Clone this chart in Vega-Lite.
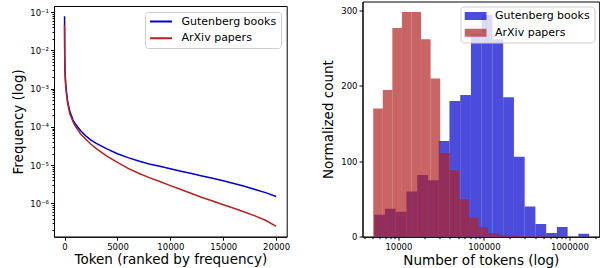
{
  "$schema": "https://vega.github.io/schema/vega-lite/v6.json",
  "padding": {"left": 11, "top": 0.5, "right": 4, "bottom": 0},
  "config": {
    "font": "DejaVu Sans",
    "view": {"stroke": "black", "strokeWidth": 1},
    "axis": {"grid": false, "domainColor": "black", "tickColor": "black", "labelColor": "black", "titleColor": "black", "labelFontSize": 8.5, "titleFontSize": 13.5, "titleFontWeight": "normal", "tickSize": 3.5, "labelPadding": 2},
    "legend": {"labelFontSize": 11, "labelColor": "black", "fillColor": "rgba(255,255,255,0.8)", "strokeColor": "#cccccc", "cornerRadius": 3, "padding": 4, "rowPadding": 4.7, "clipHeight": 11, "labelOffset": 8.5, "title": null}
  },
  "resolve": {"scale": {"color": "independent"}, "legend": {"color": "independent"}},
  "spacing": 29.5,
  "datasets": {
    "books": [
      {"rank": 0, "freq": 0.078, "series": "Gutenberg books"},
      {"rank": 2, "freq": 0.035, "series": "Gutenberg books"},
      {"rank": 5, "freq": 0.02, "series": "Gutenberg books"},
      {"rank": 10, "freq": 0.012, "series": "Gutenberg books"},
      {"rank": 20, "freq": 0.0065, "series": "Gutenberg books"},
      {"rank": 50, "freq": 0.0028, "series": "Gutenberg books"},
      {"rank": 100, "freq": 0.0014, "series": "Gutenberg books"},
      {"rank": 200, "freq": 0.00072, "series": "Gutenberg books"},
      {"rank": 300, "freq": 0.00045, "series": "Gutenberg books"},
      {"rank": 500, "freq": 0.00025, "series": "Gutenberg books"},
      {"rank": 800, "freq": 0.00015, "series": "Gutenberg books"},
      {"rank": 1000, "freq": 0.00012, "series": "Gutenberg books"},
      {"rank": 1500, "freq": 0.00008, "series": "Gutenberg books"},
      {"rank": 2000, "freq": 0.000058, "series": "Gutenberg books"},
      {"rank": 2500, "freq": 0.000045, "series": "Gutenberg books"},
      {"rank": 3000, "freq": 0.000037, "series": "Gutenberg books"},
      {"rank": 4000, "freq": 0.0000265, "series": "Gutenberg books"},
      {"rank": 5000, "freq": 0.0000198, "series": "Gutenberg books"},
      {"rank": 6000, "freq": 0.0000156, "series": "Gutenberg books"},
      {"rank": 7000, "freq": 0.0000127, "series": "Gutenberg books"},
      {"rank": 8000, "freq": 0.0000107, "series": "Gutenberg books"},
      {"rank": 9000, "freq": 0.0000093, "series": "Gutenberg books"},
      {"rank": 10000, "freq": 0.000008, "series": "Gutenberg books"},
      {"rank": 11000, "freq": 0.0000069, "series": "Gutenberg books"},
      {"rank": 12000, "freq": 0.000006, "series": "Gutenberg books"},
      {"rank": 13000, "freq": 0.0000052, "series": "Gutenberg books"},
      {"rank": 14000, "freq": 0.0000045, "series": "Gutenberg books"},
      {"rank": 15000, "freq": 0.0000039, "series": "Gutenberg books"},
      {"rank": 16000, "freq": 0.0000033, "series": "Gutenberg books"},
      {"rank": 17000, "freq": 0.0000028, "series": "Gutenberg books"},
      {"rank": 18000, "freq": 0.0000023, "series": "Gutenberg books"},
      {"rank": 19000, "freq": 0.0000019, "series": "Gutenberg books"},
      {"rank": 20000, "freq": 0.0000015, "series": "Gutenberg books"}
    ],
    "arxiv": [
      {"rank": 0, "freq": 0.046, "series": "ArXiv papers"},
      {"rank": 2, "freq": 0.025, "series": "ArXiv papers"},
      {"rank": 5, "freq": 0.015, "series": "ArXiv papers"},
      {"rank": 10, "freq": 0.009, "series": "ArXiv papers"},
      {"rank": 20, "freq": 0.0052, "series": "ArXiv papers"},
      {"rank": 50, "freq": 0.0023, "series": "ArXiv papers"},
      {"rank": 100, "freq": 0.0012, "series": "ArXiv papers"},
      {"rank": 200, "freq": 0.00063, "series": "ArXiv papers"},
      {"rank": 300, "freq": 0.0004, "series": "ArXiv papers"},
      {"rank": 500, "freq": 0.00022, "series": "ArXiv papers"},
      {"rank": 800, "freq": 0.000135, "series": "ArXiv papers"},
      {"rank": 1000, "freq": 0.000105, "series": "ArXiv papers"},
      {"rank": 1500, "freq": 0.000066, "series": "ArXiv papers"},
      {"rank": 2000, "freq": 0.000047, "series": "ArXiv papers"},
      {"rank": 2500, "freq": 0.000035, "series": "ArXiv papers"},
      {"rank": 3000, "freq": 0.000027, "series": "ArXiv papers"},
      {"rank": 4000, "freq": 0.0000172, "series": "ArXiv papers"},
      {"rank": 5000, "freq": 0.0000117, "series": "ArXiv papers"},
      {"rank": 6000, "freq": 0.0000082, "series": "ArXiv papers"},
      {"rank": 7000, "freq": 0.0000061, "series": "ArXiv papers"},
      {"rank": 8000, "freq": 0.0000047, "series": "ArXiv papers"},
      {"rank": 9000, "freq": 0.0000037, "series": "ArXiv papers"},
      {"rank": 10000, "freq": 0.0000029, "series": "ArXiv papers"},
      {"rank": 11000, "freq": 0.0000023, "series": "ArXiv papers"},
      {"rank": 12000, "freq": 0.0000018, "series": "ArXiv papers"},
      {"rank": 13000, "freq": 0.00000142, "series": "ArXiv papers"},
      {"rank": 14000, "freq": 0.00000115, "series": "ArXiv papers"},
      {"rank": 15000, "freq": 0.00000092, "series": "ArXiv papers"},
      {"rank": 16000, "freq": 0.00000074, "series": "ArXiv papers"},
      {"rank": 17000, "freq": 0.00000059, "series": "ArXiv papers"},
      {"rank": 18000, "freq": 0.00000047, "series": "ArXiv papers"},
      {"rank": 19000, "freq": 0.00000036, "series": "ArXiv papers"},
      {"rank": 20000, "freq": 0.00000025, "series": "ArXiv papers"}
    ],
    "hbooks": [
      {"lo": 5212, "hi": 6963, "count": 29, "series": "Gutenberg books"},
      {"lo": 6963, "hi": 9297, "count": 37, "series": "Gutenberg books"},
      {"lo": 9297, "hi": 12418, "count": 33, "series": "Gutenberg books"},
      {"lo": 12418, "hi": 16588, "count": 60, "series": "Gutenberg books"},
      {"lo": 16588, "hi": 22157, "count": 82, "series": "Gutenberg books"},
      {"lo": 22157, "hi": 29596, "count": 75, "series": "Gutenberg books"},
      {"lo": 29596, "hi": 39530, "count": 127, "series": "Gutenberg books"},
      {"lo": 39530, "hi": 52800, "count": 180, "series": "Gutenberg books"},
      {"lo": 52800, "hi": 70520, "count": 188, "series": "Gutenberg books"},
      {"lo": 70520, "hi": 94190, "count": 270, "series": "Gutenberg books"},
      {"lo": 94190, "hi": 125800, "count": 294, "series": "Gutenberg books"},
      {"lo": 125800, "hi": 168030, "count": 262, "series": "Gutenberg books"},
      {"lo": 168030, "hi": 224440, "count": 185, "series": "Gutenberg books"},
      {"lo": 224440, "hi": 299780, "count": 106, "series": "Gutenberg books"},
      {"lo": 299780, "hi": 400400, "count": 40, "series": "Gutenberg books"},
      {"lo": 400400, "hi": 534800, "count": 17, "series": "Gutenberg books"},
      {"lo": 534800, "hi": 714300, "count": 5, "series": "Gutenberg books"},
      {"lo": 714300, "hi": 954100, "count": 13, "series": "Gutenberg books"},
      {"lo": 954100, "hi": 1274300, "count": 0, "series": "Gutenberg books"},
      {"lo": 1274300, "hi": 1702200, "count": 4, "series": "Gutenberg books"}
    ],
    "harxiv": [
      {"lo": 5074, "hi": 6565, "count": 170, "series": "ArXiv papers"},
      {"lo": 6565, "hi": 8494, "count": 194.5, "series": "ArXiv papers"},
      {"lo": 8494, "hi": 10990, "count": 277, "series": "ArXiv papers"},
      {"lo": 10990, "hi": 14220, "count": 298, "series": "ArXiv papers"},
      {"lo": 14220, "hi": 18400, "count": 298, "series": "ArXiv papers"},
      {"lo": 18400, "hi": 23810, "count": 262, "series": "ArXiv papers"},
      {"lo": 23810, "hi": 30800, "count": 210, "series": "ArXiv papers"},
      {"lo": 30800, "hi": 39860, "count": 111, "series": "ArXiv papers"},
      {"lo": 39860, "hi": 51580, "count": 88, "series": "ArXiv papers"},
      {"lo": 51580, "hi": 66730, "count": 50, "series": "ArXiv papers"},
      {"lo": 66730, "hi": 86330, "count": 25, "series": "ArXiv papers"},
      {"lo": 86330, "hi": 111710, "count": 13, "series": "ArXiv papers"},
      {"lo": 111710, "hi": 144540, "count": 5, "series": "ArXiv papers"},
      {"lo": 144540, "hi": 187000, "count": 2.6, "series": "ArXiv papers"},
      {"lo": 187000, "hi": 242000, "count": 1.5, "series": "ArXiv papers"},
      {"lo": 242000, "hi": 313100, "count": 1, "series": "ArXiv papers"},
      {"lo": 313100, "hi": 405200, "count": 0.7, "series": "ArXiv papers"},
      {"lo": 405200, "hi": 524200, "count": 0.5, "series": "ArXiv papers"},
      {"lo": 524200, "hi": 678300, "count": 0.3, "series": "ArXiv papers"},
      {"lo": 678300, "hi": 877600, "count": 0.3, "series": "ArXiv papers"}
    ]
  },
  "hconcat": [
    {
      "spacing": 2.5,
      "resolve": {"scale": {"color": "independent"}, "legend": {"color": "independent"}},
      "vconcat": [
        {
          "width": 232.7,
          "height": 1,
          "view": {"stroke": null},
          "data": {"values": []},
          "mark": "point",
          "encoding": {}
        },
        {
          "width": 232.7,
          "height": 230.7,
          "resolve": {"axis": {"y": "independent"}},
          "layer": [
            {
              "data": {"name": "books"},
              "mark": {"type": "line", "strokeWidth": 1.5, "clip": true},
              "encoding": {
                "x": {"field": "rank", "type": "quantitative", "scale": {"domain": [-1000, 21000], "nice": false, "zero": false}, "axis": {"values": [0, 5000, 10000, 15000, 20000], "format": "d", "title": "Token (ranked by frequency)", "titlePadding": 1.5}},
                "y": {"field": "freq", "type": "quantitative", "scale": {"type": "log", "domain": [1.34e-7, 0.1436], "nice": false}, "axis": {"values": [1e-6, 1e-5, 1e-4, 1e-3, 1e-2, 1e-1], "labelExpr": "'10⁻' + ['⁰','¹','²','³','⁴','⁵','⁶','⁷','⁸','⁹'][round(-log(datum.value)/LN10)]", "title": "Frequency (log)", "titlePadding": 4}},
                "color": {"field": "series", "type": "nominal", "scale": {"domain": ["Gutenberg books", "ArXiv papers"], "range": ["#0000CD", "#B22222"]}, "legend": {"orient": "top-right", "offset": 6, "symbolType": "stroke", "symbolStrokeWidth": 2, "symbolSize": 484}}
              }
            },
            {
              "data": {"name": "arxiv"},
              "mark": {"type": "line", "strokeWidth": 1.5, "clip": true},
              "encoding": {
                "x": {"field": "rank", "type": "quantitative", "axis": {"values": [0, 5000, 10000, 15000, 20000], "format": "d", "title": "Token (ranked by frequency)", "titlePadding": 1.5}},
                "y": {"field": "freq", "type": "quantitative", "axis": {"orient": "left", "values": [2e-7, 3e-7, 4e-7, 5e-7, 6e-7, 7e-7, 8e-7, 9e-7, 2e-6, 3e-6, 4e-6, 5e-6, 6e-6, 7e-6, 8e-6, 9e-6, 2e-5, 3e-5, 4e-5, 5e-5, 6e-5, 7e-5, 8e-5, 9e-5, 2e-4, 3e-4, 4e-4, 5e-4, 6e-4, 7e-4, 8e-4, 9e-4, 2e-3, 3e-3, 4e-3, 5e-3, 6e-3, 7e-3, 8e-3, 9e-3, 2e-2, 3e-2, 4e-2, 5e-2, 6e-2, 7e-2, 8e-2, 9e-2], "labels": false, "tickSize": 2, "title": null, "domain": false}},
                "color": {"field": "series", "type": "nominal"}
              }
            }
          ]
        }
      ]
    },
    {
      "width": 236.7,
      "height": 235.2,
      "resolve": {"axis": {"x": "independent"}},
      "layer": [
        {
          "data": {"name": "hbooks"},
          "mark": {"type": "bar", "opacity": 0.7, "clip": true},
          "encoding": {
            "x": {"field": "lo", "type": "quantitative", "scale": {"type": "log", "domain": [3802, 2231000], "nice": false, "padding": 0}, "axis": {"values": [10000, 100000, 1000000], "format": "d", "title": "Number of tokens (log)", "titlePadding": 3}},
            "x2": {"field": "hi"},
            "y": {"field": "count", "type": "quantitative", "stack": null, "scale": {"domain": [0, 312], "nice": false, "padding": 0}, "axis": {"values": [0, 50, 100, 150, 200, 250, 300], "title": "Normalized count", "titlePadding": 5}},
            "y2": {"datum": 0},
            "color": {"field": "series", "type": "nominal", "scale": {"domain": ["Gutenberg books", "ArXiv papers"], "range": ["#0000CD", "#B22222"]}, "legend": {"orient": "top-right", "offset": 4.5, "symbolType": "M-1,-0.36H1V0.36H-1Z", "symbolSize": 484, "symbolStrokeWidth": 0, "symbolOpacity": 0.7}}
          }
        },
        {
          "data": {"name": "harxiv"},
          "mark": {"type": "bar", "opacity": 0.7, "clip": true},
          "encoding": {
            "x": {"field": "lo", "type": "quantitative", "axis": {"orient": "bottom", "values": [4000, 5000, 6000, 7000, 8000, 9000, 20000, 30000, 40000, 50000, 60000, 70000, 80000, 90000, 200000, 300000, 400000, 500000, 600000, 700000, 800000, 900000, 2000000], "labels": false, "tickSize": 2, "title": null, "domain": false}},
            "x2": {"field": "hi"},
            "y": {"field": "count", "type": "quantitative", "stack": null},
            "y2": {"datum": 0},
            "color": {"field": "series", "type": "nominal"}
          }
        }
      ]
    }
  ]
}
